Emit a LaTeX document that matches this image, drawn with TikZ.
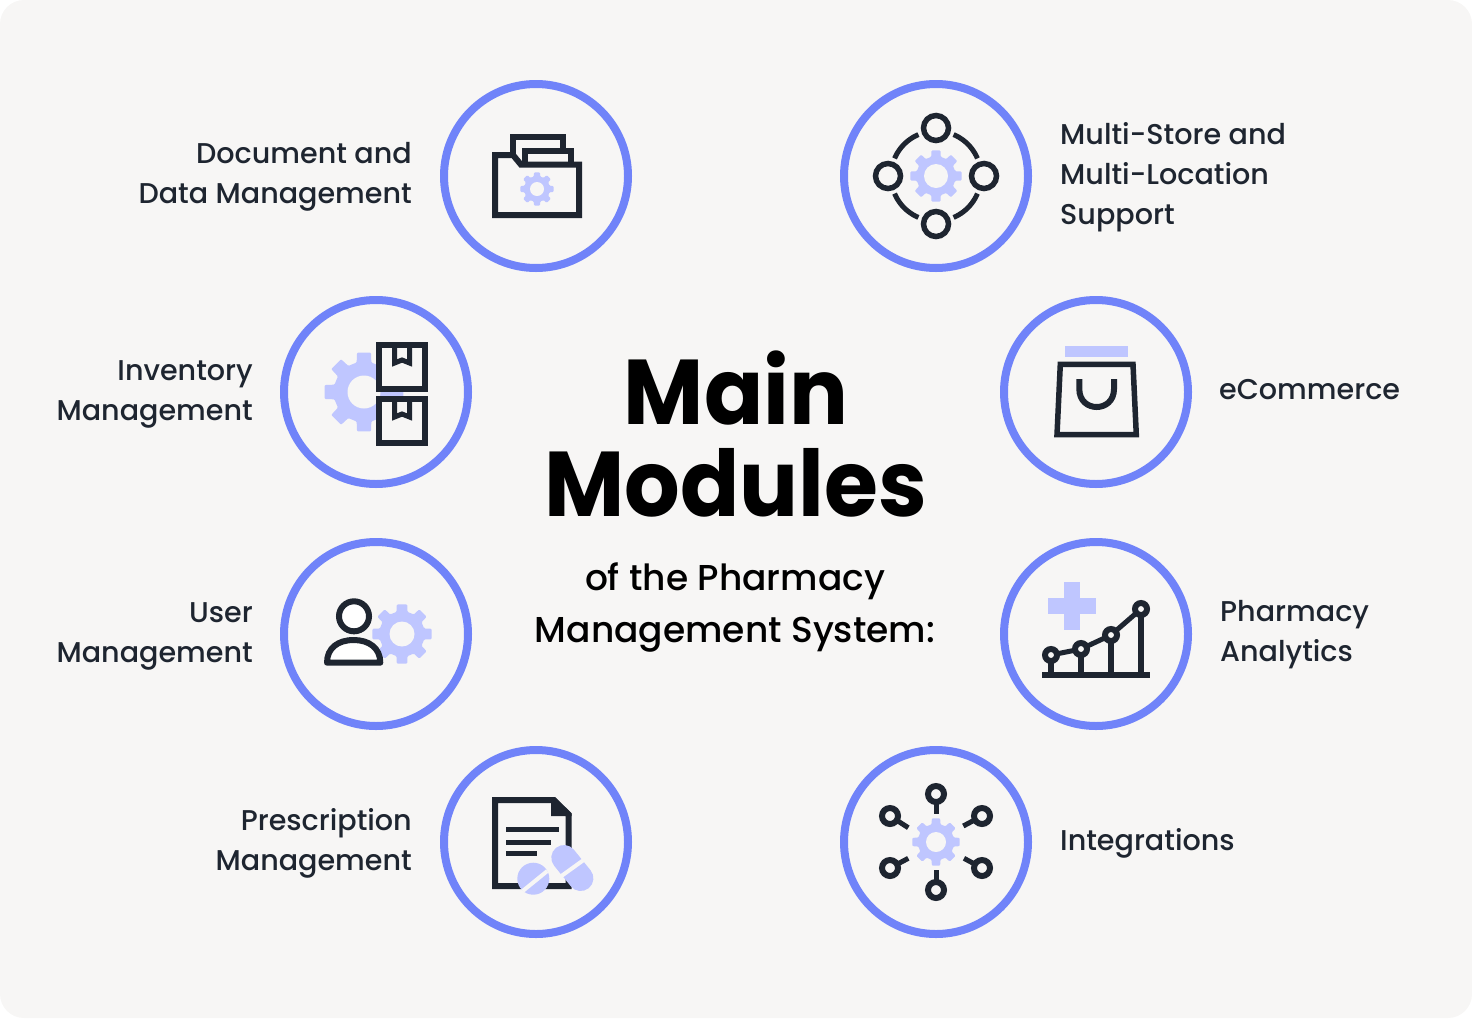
\documentclass[tikz,border=0pt]{standalone}
\usepackage{fontspec}
\setmainfont{Poppins}
\newfontfamily\labelfont{Poppins Medium}
\newfontfamily\titlefont[FakeStretch=0.95]{Poppins}[BoldFont=Poppins Bold]
\definecolor{ringblue}{HTML}{7083F9}
\definecolor{lightblue}{HTML}{BFC6FF}
\definecolor{inkdark}{HTML}{1E2530}
\definecolor{paper}{HTML}{F7F6F5}
\tikzset{
  ringnode/.style={circle, draw=ringblue, line width=8pt, minimum size=184pt, inner sep=0pt, outer sep=0pt},
  labelnode/.style={text=inkdark, inner sep=0pt, font=\labelfont\fontsize{28.6}{40}\selectfont},
  icon/.style={draw=inkdark, line width=6pt, miter limit=10},
  thinicon/.style={draw=inkdark, line width=5pt}
}
\newcommand{\gearicon}[4]{
  \fill[lightblue, rounded corners=1pt, shift={(#1,#2)}] (-14:#3*.76)
    \foreach \a in {0,45,...,315}{ -- (\a-14:#3*.76) -- (\a-10:#3) -- (\a+10:#3) -- (\a+14:#3*.76) } -- cycle;
  \fill[paper] (#1,#2) circle (#4pt);
}
\begin{document}
\begin{tikzpicture}[x=1pt, y=-1pt]
  \useasboundingbox (0,0) rectangle (1472,1018);
  \fill[paper, rounded corners=24pt] (0,0) rectangle (1472,1018);

  % rings
  \node[ringnode] (docring) at (536,176) {};
  \node[ringnode] (storering) at (936,176) {};
  \node[ringnode] (invring) at (376,392) {};
  \node[ringnode] (shopring) at (1096,392) {};
  \node[ringnode] (userring) at (376,634) {};
  \node[ringnode] (statring) at (1096,634) {};
  \node[ringnode] (rxring) at (536,842) {};
  \node[ringnode] (intring) at (936,842) {};

  % title
  \node[font=\titlefont\fontsize{92}{92}\bfseries\selectfont, align=center, text=black] (title) at (736,434) {Main\\Modules};
  \node[font=\labelfont\fontsize{36}{52}\selectfont, align=center, text=black] (subtitle) at (735,607) {of the Pharmacy\\Management System:};

  % labels
  \node[labelnode, align=right, anchor=east] (doclabel) at (412,177) {Document and\\Data Management};
  \node[labelnode, align=left, anchor=west] (storelabel) at (1060,177) {Multi-Store and\\Multi-Location\\Support};
  \node[labelnode, align=right, anchor=east] (invlabel) at (253,394) {Inventory\\Management};
  \node[labelnode, align=left, anchor=west] (shoplabel) at (1219,390) {eCommerce};
  \node[labelnode, align=right, anchor=east] (userlabel) at (253,636) {User\\Management};
  \node[labelnode, align=left, anchor=west] (statlabel) at (1220,635) {Pharmacy\\Analytics};
  \node[labelnode, align=right, anchor=east] (rxlabel) at (412,843) {Prescription\\Management};
  \node[labelnode, align=left, anchor=west] (intlabel) at (1060,843) {Integrations};

  % folder
  \gearicon{537}{189}{17}{7}
  \draw[icon] (495,155) -- (513,155) -- (521,164.7) -- (579,164.7) -- (579,215) -- (495,215) -- cycle;
  \draw[icon] (513,155) -- (513,137) -- (563,137) -- (563,149);
  \draw[icon] (525,164) -- (525,151) -- (571,151) -- (571,164);

  % stores
  \gearicon{936}{176}{26}{12}
  \foreach \a in {0,90,180,270}{
    \draw[thinicon, domain=\a+23:\a+67, samples=20] plot ({936+45*cos(\x)},{176+45*sin(\x)});
    \draw[icon, line width=5.5pt] ({936+48*cos(\a)},{176+48*sin(\a)}) circle (12.5pt);
  }

  % boxes
  \gearicon{364}{392}{40}{16.5}
  \foreach \y in {345,399}{
    \draw[icon, fill=paper] (379,\y) rectangle (425,\y+44);
    \draw[thinicon] (394.5,\y) -- (394.5,\y+18) -- (402,\y+15) -- (409.5,\y+18) -- (409.5,\y);
  }

  % bag
  \fill[lightblue] (1065,346) rectangle (1128.3,357);
  \draw[icon, line width=5.5pt] (1060.3,364.3) -- (1133,364.3) -- (1136.3,434.7) -- (1057,434.7) -- cycle;
  \draw[icon] (1079.3,379) -- (1079.3,389) .. controls (1079.3,413) and (1114,413) .. (1114,389) -- (1114,379);

  % user
  \gearicon{402}{634}{30}{12.5}
  \draw[icon, fill=white] (354,616.3) circle (15pt);
  \draw[icon, fill=white, line join=round] (327,662.7) .. controls (327,648) and (338,640) .. (353.7,640) .. controls (369,640) and (380.3,648) .. (380.3,662.7) -- cycle;

  % chart
  \fill[lightblue] (1064,582) rectangle (1080,630);
  \fill[lightblue] (1048,598) rectangle (1096,614);
  \draw[icon] (1042,675) -- (1150,675);
  \draw[thinicon] (1051,655) -- (1081,649) -- (1111,635) -- (1141,609);
  \foreach \x/\y in {1051/655, 1081/649, 1111/635, 1141/609}{
    \draw[icon] (\x,\y) -- (\x,675);
    \draw[icon, fill=paper] (\x,\y) circle (6pt);
  }

  % prescription
  \draw[icon] (495,800) -- (553.3,800) -- (568.7,815) -- (568.7,886) -- (495,886) -- cycle;
  \fill[inkdark] (551,797) -- (555,797) -- (571.7,813.3) -- (571.7,816) -- (551,816) -- cycle;
  \draw[thinicon] (506,829.3) -- (559.3,829.3);
  \draw[thinicon] (506,842.3) -- (551.3,842.3);
  \draw[thinicon] (506,853.3) -- (536.7,853.3);
  \fill[lightblue] (533.3,878.7) circle (16pt);
  \draw[paper, line width=4pt] (522.7,891) -- (547.3,871);
  \draw[lightblue, line width=25.4pt, line cap=round] (564,857.7) -- (580.7,878.3);
  \draw[paper, line width=4pt] (560,877) -- (585,859);

  % integrations
  \gearicon{936}{842}{24}{10}
  \foreach \x/\y/\u/\v in {936/794/936/814, 982/816/963.3/826, 890/816/908.3/827.7, 890/868/908.3/858.3, 982/868/964/858.3, 936/890/936/870}{
    \draw[thinicon] (\x,\y) -- (\u,\v);
    \draw[icon, fill=paper] (\x,\y) circle (8pt);
  }
\end{tikzpicture}
\end{document}
